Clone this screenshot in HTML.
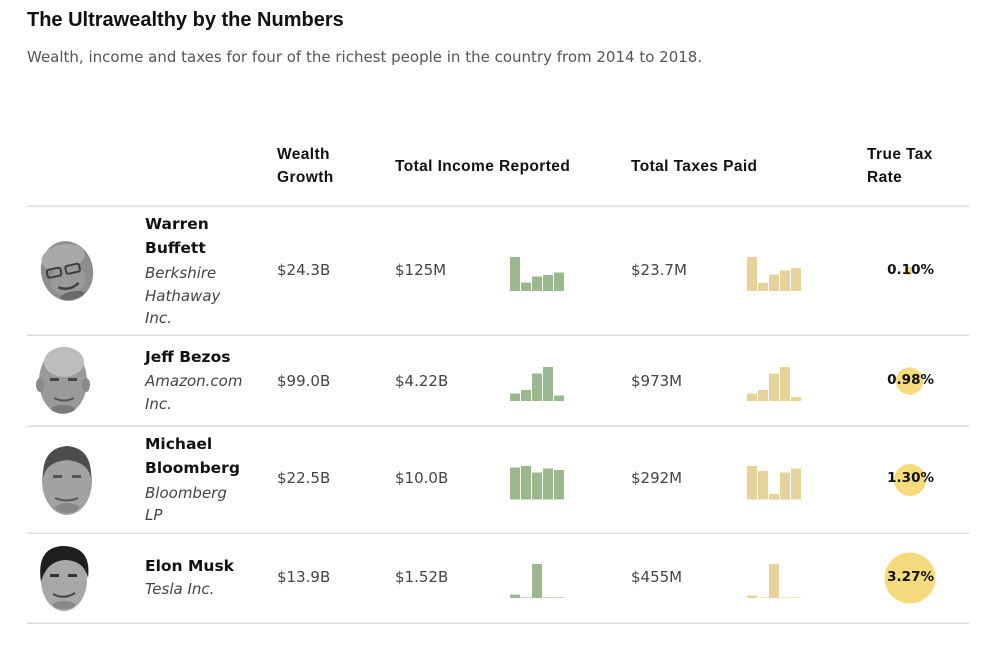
<!DOCTYPE html>
<html><head><meta charset="utf-8">
<style>
html,body{margin:0;padding:0;background:#fff;}
body{width:1000px;height:654px;position:relative;overflow:hidden;}
.t{position:absolute;white-space:nowrap;}
.title{left:27px;top:10px;font:bold 20px/20px "Liberation Sans",sans-serif;color:#111;}
.sub{left:27px;top:45.6px;font:15px/23px "DejaVu Sans",sans-serif;color:#555;}
.h{font:bold 15.5px/23px "Liberation Sans",sans-serif;color:#111;letter-spacing:0.4px;}
.nm{left:145px;font:bold 15.5px/24.5px "DejaVu Sans",sans-serif;color:#111;}
.co{left:145px;font:oblique 15px/22.5px "DejaVu Sans",sans-serif;color:#444;}
.v{font:15px/23px "DejaVu Sans",sans-serif;color:#444;}
.p{right:66px;font:bold 13.5px/20px "DejaVu Sans",sans-serif;color:#111;}
svg{position:absolute;left:0;top:0;}
</style></head><body>
<svg width="1000" height="654" viewBox="0 0 1000 654">
  <g fill="#dcdcdc">
    <rect x="27" y="205.5" width="942" height="1.5"/>
    <rect x="27" y="334.5" width="942" height="1.5"/>
    <rect x="27" y="425.5" width="942" height="1.5"/>
    <rect x="27" y="532.5" width="942" height="1.5"/>
    <rect x="27" y="622.5" width="942" height="1.5"/>
  </g>
  <!-- income bars -->
  <g fill="#9bb88e">
    <rect x="510" y="257" width="10" height="34"/>
    <rect x="521" y="282.5" width="10" height="8.5"/>
    <rect x="532" y="276.5" width="10" height="14.5"/>
    <rect x="543" y="275" width="10" height="16"/>
    <rect x="554" y="272.5" width="10" height="18.5"/>

    <rect x="510" y="393.5" width="10" height="7.5"/>
    <rect x="521" y="390" width="10" height="11"/>
    <rect x="532" y="373.5" width="10" height="27.5"/>
    <rect x="543" y="367" width="10" height="34"/>
    <rect x="554" y="395.5" width="10" height="5.5"/>

    <rect x="510" y="467.5" width="10" height="32"/>
    <rect x="521" y="466" width="10" height="33.5"/>
    <rect x="532" y="472.5" width="10" height="27"/>
    <rect x="543" y="468.5" width="10" height="31"/>
    <rect x="554" y="470" width="10" height="29.5"/>

    <rect x="510" y="594.5" width="10" height="3.5"/>
    <rect x="521" y="597" width="10" height="1" opacity=".6"/>
    <rect x="532" y="564" width="10" height="34"/>
    <rect x="543" y="597" width="10" height="1" opacity=".6"/>
    <rect x="554" y="597" width="10" height="1" opacity=".6"/>
  </g>
  <!-- tax bars -->
  <g fill="#e6d39b">
    <rect x="747" y="257" width="10" height="34"/>
    <rect x="758" y="283" width="10" height="8"/>
    <rect x="769" y="274.5" width="10" height="16.5"/>
    <rect x="780" y="270.5" width="10" height="20.5"/>
    <rect x="791" y="268" width="10" height="23"/>

    <rect x="747" y="393.5" width="10" height="7.5"/>
    <rect x="758" y="390" width="10" height="11"/>
    <rect x="769" y="373.5" width="10" height="27.5"/>
    <rect x="780" y="367" width="10" height="34"/>
    <rect x="791" y="397" width="10" height="4"/>

    <rect x="747" y="466" width="10" height="33.5"/>
    <rect x="758" y="471" width="10" height="28.5"/>
    <rect x="769" y="494" width="10" height="5.5"/>
    <rect x="780" y="472.5" width="10" height="27"/>
    <rect x="791" y="468.5" width="10" height="31"/>

    <rect x="747" y="595.5" width="10" height="2.5"/>
    <rect x="758" y="597" width="10" height="1" opacity=".6"/>
    <rect x="769" y="564" width="10" height="34"/>
    <rect x="780" y="597" width="10" height="1" opacity=".6"/>
    <rect x="791" y="597" width="10" height="1" opacity=".6"/>
  </g>
  <!-- rate circles -->
  <g fill="#f6da7e">
    <circle cx="909" cy="271" r="4.5"/>
    <circle cx="909.5" cy="381" r="13.7"/>
    <circle cx="910" cy="480" r="16"/>
    <circle cx="910" cy="578" r="25.5"/>
  </g>
  <!-- Buffett face -->
  <g transform="rotate(-12 67 271)">
    <ellipse cx="67" cy="271" rx="26" ry="30" fill="#8e8e8e"/>
    <ellipse cx="66" cy="257" rx="22" ry="13" fill="#a9a9a9"/>
    <ellipse cx="66" cy="280" rx="18" ry="15" fill="#9a9a9a"/>
    <rect x="47" y="266" width="14" height="8" rx="2" fill="none" stroke="#3d3d3d" stroke-width="2"/>
    <rect x="66" y="266" width="14" height="8" rx="2" fill="none" stroke="#3d3d3d" stroke-width="2"/>
    <path d="M55 285 Q65 292 76 285" stroke="#444" stroke-width="2.5" fill="none"/>
    <ellipse cx="67" cy="296" rx="12" ry="4" fill="#6a6a6a"/>
  </g>
  <!-- Bezos face -->
  <g>
    <ellipse cx="63" cy="381" rx="24" ry="33" fill="#9a9a9a"/>
    <ellipse cx="64" cy="362" rx="20" ry="15" fill="#bdbdbd"/>
    <ellipse cx="40" cy="385" rx="4" ry="7" fill="#8a8a8a"/>
    <ellipse cx="86" cy="385" rx="4" ry="7" fill="#8a8a8a"/>
    <rect x="50" y="378" width="9" height="3" fill="#444"/>
    <rect x="68" y="378" width="9" height="3" fill="#444"/>
    <path d="M54 398 Q64 403 74 398" stroke="#555" stroke-width="2" fill="none"/>
    <ellipse cx="63" cy="409" rx="12" ry="4" fill="#7a7a7a"/>
  </g>
  <!-- Bloomberg face -->
  <g>
    <ellipse cx="67" cy="481" rx="25" ry="34" fill="#a2a2a2"/>
    <path d="M43 478 Q42 448 67 446 Q92 448 91 478 Q88 462 67 460 Q46 462 43 478Z" fill="#4c4c4c"/>
    <rect x="53" y="475" width="9" height="3" fill="#555"/>
    <rect x="72" y="475" width="9" height="3" fill="#555"/>
    <path d="M55 498 Q67 503 78 498" stroke="#555" stroke-width="2" fill="none"/>
    <ellipse cx="67" cy="508" rx="12" ry="5" fill="#888"/>
  </g>
  <!-- Musk face -->
  <g>
    <ellipse cx="64" cy="580" rx="23" ry="31" fill="#a8a8a8"/>
    <path d="M41 582 Q36 548 62 546 Q92 546 88 578 Q84 560 64 560 Q46 562 41 582Z" fill="#1e1e1e"/>
    <rect x="50" y="574" width="9" height="3" fill="#333"/>
    <rect x="68" y="574" width="9" height="3" fill="#333"/>
    <path d="M53 594 Q64 600 75 593" stroke="#444" stroke-width="2" fill="none"/>
    <ellipse cx="64" cy="605" rx="11" ry="4" fill="#888"/>
  </g>
</svg>

<div class="t title">The Ultrawealthy by the Numbers</div>
<div class="t sub">Wealth, income and taxes for four of the richest people in the country from 2014 to 2018.</div>

<div class="t h" style="left:277px;top:143.1px;">Wealth<br>Growth</div>
<div class="t h" style="left:395px;top:155.4px;">Total Income Reported</div>
<div class="t h" style="left:631px;top:155.4px;">Total Taxes Paid</div>
<div class="t h" style="left:867px;top:143.1px;">True Tax<br>Rate</div>

<!-- Row 1 -->
<div class="t nm" style="top:211.7px;">Warren<br>Buffett</div>
<div class="t co" style="top:262.3px;">Berkshire<br>Hathaway<br>Inc.</div>
<div class="t v" style="left:277px;top:259.3px;">$24.3B</div>
<div class="t v" style="left:395px;top:259.3px;">$125M</div>
<div class="t v" style="left:631px;top:259.3px;">$23.7M</div>
<div class="t p" style="top:260.3px;">0.10%</div>

<!-- Row 2 -->
<div class="t nm" style="top:345.1px;">Jeff Bezos</div>
<div class="t co" style="top:370px;">Amazon.com<br>Inc.</div>
<div class="t v" style="left:277px;top:369.8px;">$99.0B</div>
<div class="t v" style="left:395px;top:369.8px;">$4.22B</div>
<div class="t v" style="left:631px;top:369.8px;">$973M</div>
<div class="t p" style="top:370.3px;">0.98%</div>

<!-- Row 3 -->
<div class="t nm" style="top:431.7px;">Michael<br>Bloomberg</div>
<div class="t co" style="top:481.6px;">Bloomberg<br>LP</div>
<div class="t v" style="left:277px;top:467.3px;">$22.5B</div>
<div class="t v" style="left:395px;top:467.3px;">$10.0B</div>
<div class="t v" style="left:631px;top:467.3px;">$292M</div>
<div class="t p" style="top:468.3px;">1.30%</div>

<!-- Row 4 -->
<div class="t nm" style="top:554.1px;">Elon Musk</div>
<div class="t co" style="top:578.3px;">Tesla Inc.</div>
<div class="t v" style="left:277px;top:565.6px;">$13.9B</div>
<div class="t v" style="left:395px;top:565.6px;">$1.52B</div>
<div class="t v" style="left:631px;top:565.6px;">$455M</div>
<div class="t p" style="top:566.8px;">3.27%</div>
</body></html>
